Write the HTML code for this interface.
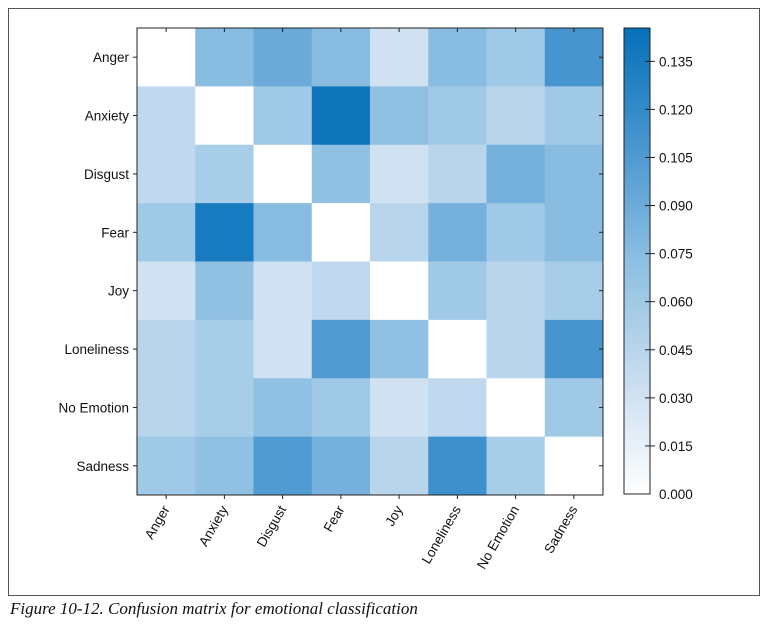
<!DOCTYPE html>
<html><head><meta charset="utf-8"><style>
body{margin:0;width:767px;height:636px;background:#fff;overflow:hidden}
svg{display:block}
text{font-family:"Liberation Sans",sans-serif;font-size:13.5px;fill:#111}
</style></head><body>
<svg id="c" width="767" height="636">
<defs><linearGradient id="cb" x1="0" y1="1" x2="0" y2="0">
<stop offset="0" stop-color="#ffffff"/><stop offset="0.25" stop-color="#c6dcef"/><stop offset="0.5" stop-color="#8cbfe2"/><stop offset="0.75" stop-color="#4896cf"/><stop offset="1" stop-color="#0570b9"/>
</linearGradient></defs>
<rect x="8.5" y="8.5" width="751" height="587" fill="none" stroke="#555"/>
<g id="cells"></g>
<rect x="137" y="28" width="466" height="467" fill="none" stroke="#222"/>
<rect x="624" y="28" width="26" height="466" fill="url(#cb)" stroke="#222"/>
<g id="ax"></g>
<text x="10" y="614" style="font-family:'Liberation Serif',serif;font-style:italic;font-size:17px">Figure 10-12. Confusion matrix for emotional classification</text>
</svg>
<script>
const labels=["Anger","Anxiety","Disgust","Fear","Joy","Loneliness","No Emotion","Sadness"];
const row0=[0,0.075,0.09,0.075,0.03,0.075,0.06,0.11];
const row1=[0.04,0,0.06,0.14,0.07,0.06,0.045,0.06];
const row2=[0.04,0.055,0,0.07,0.03,0.045,0.085,0.075];
const row3=[0.06,0.135,0.075,0,0.045,0.085,0.06,0.075];
const row4=[0.03,0.07,0.03,0.04,0,0.06,0.045,0.055];
const row5=[0.045,0.055,0.03,0.105,0.07,0,0.045,0.11];
const row6=[0.045,0.055,0.07,0.06,0.03,0.04,0,0.06];
const row7=[0.06,0.07,0.105,0.085,0.045,0.115,0.055,0];
const rows=[row0,row1,row2,row3,row4,row5,row6,row7];
const cbTicks=[0,0.015,0.03,0.045,0.06,0.075,0.09,0.105,0.12,0.135];
const vmax=0.1454;
const NS="http://www.w3.org/2000/svg";
const X0=137,Y0=28,W=466,H=467,n=labels.length,cw=W/n,ch=H/n;
const xs=i=>X0+i*cw, ys=j=>Y0+j*ch;
const cbY=v=>494-v/vmax*466;
const stops=[[0,[255,255,255]],[0.25,[198,220,239]],[0.5,[140,191,226]],[0.75,[72,150,207]],[1,[5,112,185]]];
function col(v){let t=Math.max(0,Math.min(1,v/vmax));for(let k=1;k<stops.length;k++){if(t<=stops[k][0]){const a=stops[k-1],b=stops[k],f=(t-a[0])/(b[0]-a[0]);return "rgb("+a[1].map((c,i)=>Math.round(c+(b[1][i]-c)*f)).join(",")+")";}}return "rgb(5,112,185)";}
function mk(tag,at,parent){const e=document.createElementNS(NS,tag);for(const k in at)e.setAttribute(k,at[k]);parent.appendChild(e);return e;}
const cg=document.getElementById("cells"),ag=document.getElementById("ax");
rows.forEach((r,j)=>r.forEach((v,i)=>{const e=mk("rect",{x:xs(i),y:ys(j),width:cw+0.5,height:ch+0.5,fill:col(v)},cg);

}));
labels.forEach((l,i)=>{const cx=xs(i)+cw/2,cy=ys(i)+ch/2;
mk("line",{x1:X0-4,x2:X0,y1:cy,y2:cy,stroke:"#222"},ag);
mk("line",{x1:X0+W-4,x2:X0+W,y1:cy,y2:cy,stroke:"#222"},ag);
mk("line",{x1:cx,x2:cx,y1:Y0,y2:Y0+4,stroke:"#222"},ag);
mk("line",{x1:cx,x2:cx,y1:Y0+H,y2:Y0+H+4,stroke:"#222"},ag);
const t=mk("text",{x:X0-8,y:cy+5,"text-anchor":"end"},ag);t.textContent=l;


const u=mk("text",{x:cx+4,y:Y0+H+14,"text-anchor":"end",transform:`rotate(-60 ${cx+4} ${Y0+H+14})`},ag);u.textContent=l;

});
cbTicks.forEach(v=>{const y=cbY(v);
if(v>0)mk("line",{x1:645,x2:655,y1:y,y2:y,stroke:"#222"},ag);
const t=mk("text",{x:659,y:y+5},ag);t.textContent=v.toFixed(3);

});
</script>
</body></html>
